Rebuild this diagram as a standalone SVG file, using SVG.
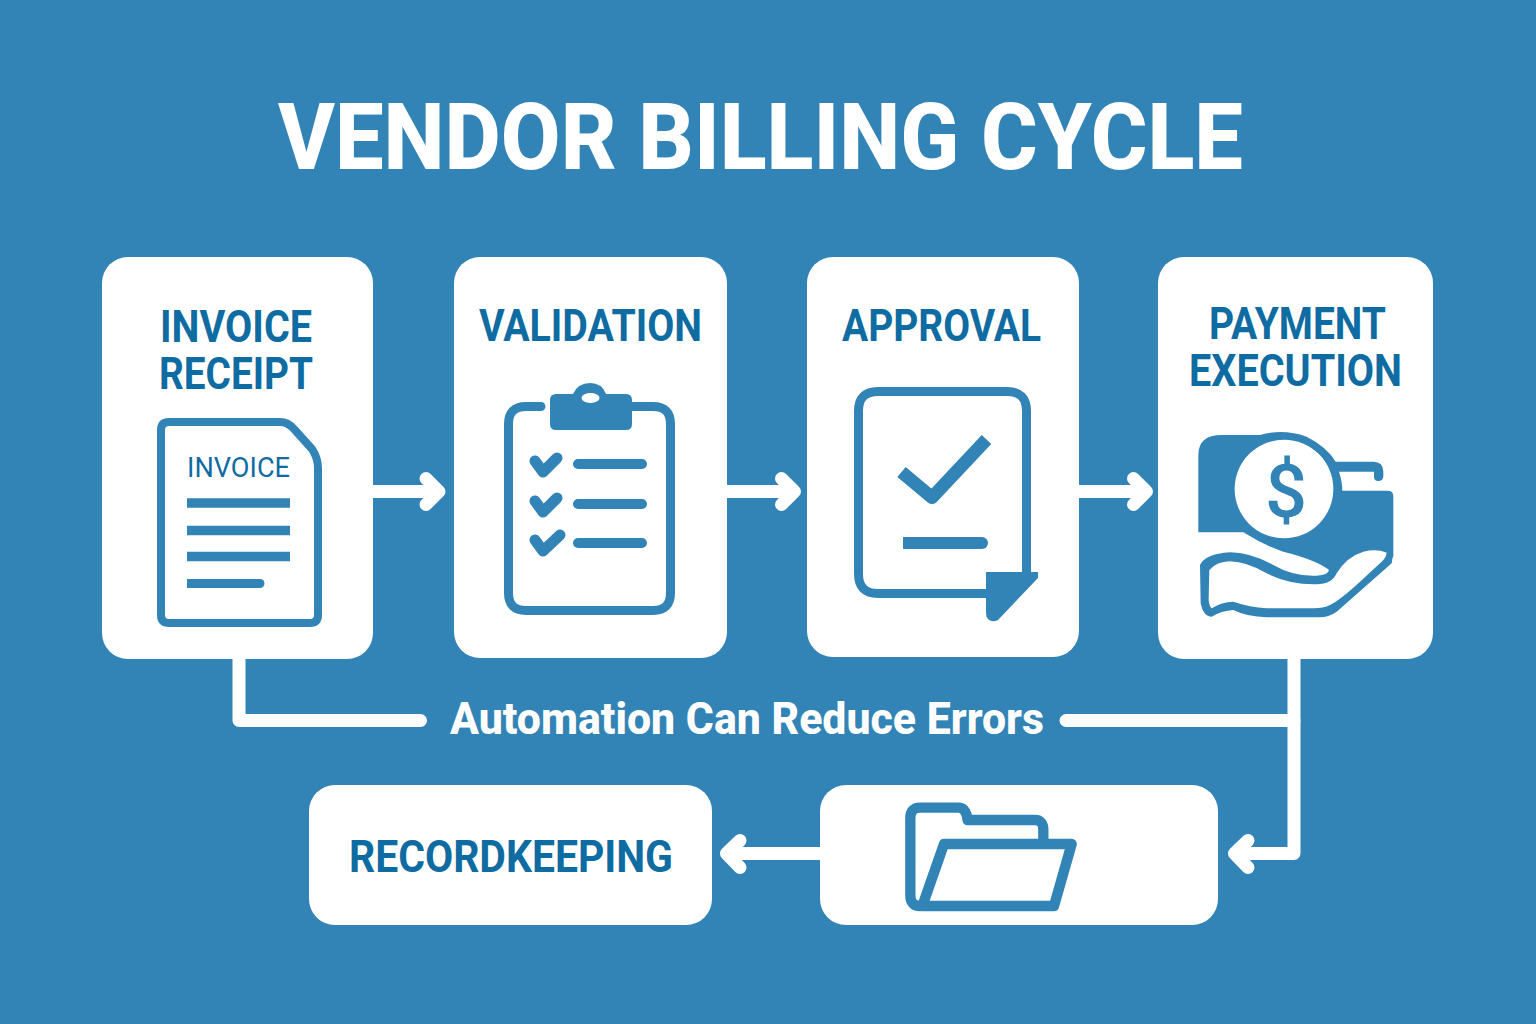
<svg xmlns="http://www.w3.org/2000/svg" width="1536" height="1024" viewBox="0 0 1536 1024">
<style>
.card{fill:#fff}
.t{font-family:"Roboto","Liberation Sans",sans-serif;font-weight:700;fill:#0e6ca2;text-anchor:middle;font-size:44px}
.i{fill:none;stroke:#3384b6;stroke-linecap:round;stroke-linejoin:round}
.b{stroke-linecap:butt}
.f{fill:#3384b6}
.w{fill:#fff}
.c{fill:none;stroke:#fff;stroke-width:13;stroke-linecap:round;stroke-linejoin:round}
</style>
<rect width="1536" height="1024" fill="#3384b6"/>
<text x="760.500" y="169" text-anchor="middle" font-family="Roboto,'Liberation Sans',sans-serif" font-weight="800" font-size="92" fill="#fff" textLength="965" lengthAdjust="spacingAndGlyphs">VENDOR BILLING CYCLE</text>
<g id="connectors" class="c">
<path d="M373 491.500H436M426 478.500L439 491.500L426 504.500"/>
<path d="M727 491.500H791M781.500 478.500L794.500 491.500L781.500 504.500"/>
<path d="M1079 491.500H1143M1133.500 478.500L1146.500 491.500L1133.500 504.500"/>
<path d="M239 655V720.500H420.500"/>
<path d="M1066 720.500H1294"/>
<path d="M1294 655V853.500H1238M1248 840.500L1234.500 853.500L1248 867.500"/>
<path d="M820 853.500H730M740 840.500L726.500 853.500L740 867.500"/>
</g>
<text id="note" x="747" y="734" text-anchor="middle" font-family="Roboto,'Liberation Sans',sans-serif" font-weight="800" font-size="44" fill="#fff" textLength="594" lengthAdjust="spacingAndGlyphs">Automation Can Reduce Errors</text>
<g id="invoice-receipt">
<rect class="card" x="102" y="257" width="271" height="402" rx="26"/>
<text class="t" x="236" y="342" textLength="152" lengthAdjust="spacingAndGlyphs">INVOICE</text>
<text class="t" x="236" y="389" textLength="154" lengthAdjust="spacingAndGlyphs">RECEIPT</text>
<path class="i" stroke-width="8" d="M169 422H280Q288 422 294 429L312 449Q318 458 318 468V615Q318 623 310 623H169Q161 623 161 615V430Q161 422 169 422Z"/>
<text x="238.500" y="477" text-anchor="middle" font-family="Roboto,'Liberation Sans',sans-serif" font-size="27" fill="#0e6ca2" textLength="103" lengthAdjust="spacingAndGlyphs">INVOICE</text>
<path class="i b" stroke-width="9.500" d="M187 503H290M187 530.500H290M187 556.500H290"/>
<path class="f" d="M187 579H260A4.500 4.500 0 0 1 260 588H187Z"/>
</g>
<g id="validation">
<rect class="card" x="454" y="257" width="273" height="401" rx="26"/>
<text class="t" x="590.500" y="341" textLength="223" lengthAdjust="spacingAndGlyphs">VALIDATION</text>
<path class="i" stroke-width="9" d="M541 406.500H526Q508.500 406.500 508.500 424V593Q508.500 610.500 526 610.500H653Q670.500 610.500 670.500 593V424Q670.500 406.500 653 406.500H632" stroke-linecap="butt"/>
<path class="f" d="M556 394H573Q578 383 590 383Q602 383 606 394H626Q632 394 632 400V424Q632 430 626 430H556Q550 430 550 424V400Q550 394 556 394Z"/>
<ellipse cx="590.500" cy="398" rx="9" ry="5" fill="#fff"/>
<path class="i" stroke-width="11" d="M535 461L543 472L557 458M535 501L543 512L557 498M535 540L543 551L560 535"/>
<path class="i" stroke-width="10" d="M578 464H642M578 504H642M578 543H642"/>
</g>
<g id="approval">
<rect class="card" x="807" y="257" width="272" height="400" rx="26"/>
<text class="t" x="941.500" y="341" textLength="199" lengthAdjust="spacingAndGlyphs">APPROVAL</text>
<path class="i" stroke-width="9" d="M990 593.500H878Q858.500 593.500 858.500 574V411Q858.500 391.500 878 391.500H1007Q1026.500 391.500 1026.500 411V575"/>
<path class="f" d="M986 572H1038V578L998 620Q992 623 988 619Q986 617 986 612Z"/>
<path class="i b" stroke-width="13" stroke-linejoin="miter" d="M901.500 472L932 497.500L986.500 439.500"/>
<path class="f" d="M903 537H982A6 6 0 0 1 982 549H903Z"/>
</g>
<g id="payment-execution">
<rect class="card" x="1158" y="257" width="275" height="402" rx="26"/>
<text class="t" x="1297.500" y="339" textLength="177" lengthAdjust="spacingAndGlyphs">PAYMENT</text>
<text class="t" x="1295.500" y="386" textLength="213" lengthAdjust="spacingAndGlyphs">EXECUTION</text>
<g transform="translate(1150 400) scale(.33333)">
<path class="f" d="M145 397V165Q145 105 215 105H330Q400 85 470 110Q530 140 557 185H670Q700 185 700 215V230Q698 243 685 243Q672 243 672 230V215H567Q577 245 577 272H715Q730 272 730 290V470L600 560L537 510Q500 480 400 455Q340 435 280 397Z"/>
<path class="f" d="M150 495Q165 462 240 457Q300 457 370 495Q430 530 500 527Q535 525 537 510L600 470L730 460L725 490L560 635Q535 652 510 652H350Q290 650 250 630Q215 632 185 650Q160 650 152 610Z"/>
<path class="w" d="M178 510Q200 485 240 484Q290 485 350 520Q420 555 500 553Q545 553 560 520Q590 470 640 455Q680 445 710 458Q708 475 690 490L630 545Q570 600 540 615Q520 625 490 625H350Q300 622 250 605Q215 605 185 625Q178 620 176 600Z"/>
<circle class="w" cx="402" cy="267" r="148"/>
</g>
<text x="1286" y="517" text-anchor="middle" font-family="Roboto,'Liberation Sans',sans-serif" font-weight="500" font-size="74" fill="#3384b6">$</text>
</g>
<g id="recordkeeping">
<rect class="card" x="309" y="785" width="403" height="140" rx="26"/>
<text class="t" x="511" y="872" textLength="324" lengthAdjust="spacingAndGlyphs">RECORDKEEPING</text>
</g>
<g id="archive">
<rect class="card" x="820" y="785" width="398" height="140" rx="26"/>
<g transform="translate(880 780) scale(.33333)">
<path class="i" stroke-width="31" d="M120 378Q91 378 91 345V115Q91 83 120 83H235Q258 83 263 120H465Q490 120 490 150V190"/>
<path class="i" stroke-width="31" d="M192 192H575L522 378H127Z"/>
</g>
</g>
</svg>
